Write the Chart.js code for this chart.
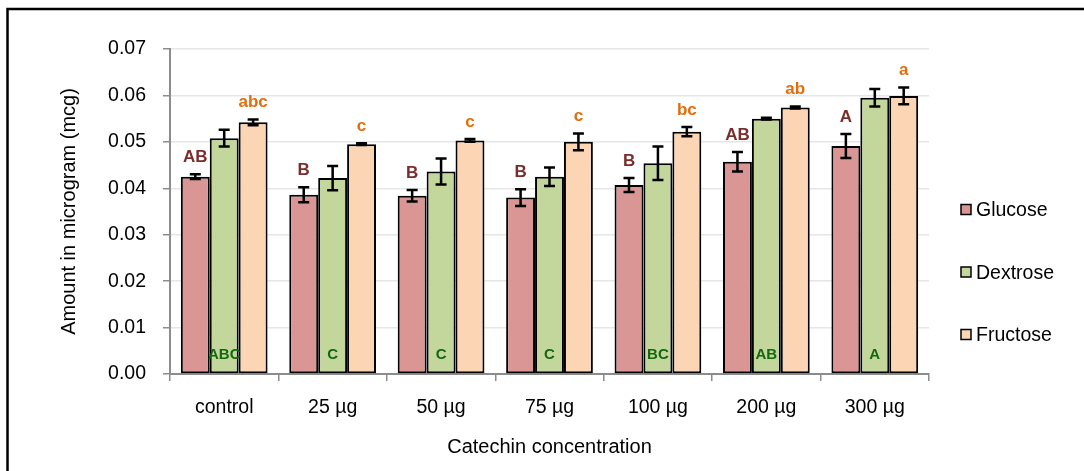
<!DOCTYPE html>
<html>
<head>
<meta charset="utf-8">
<script src="https://cdn.jsdelivr.net/npm/chart.js@4"></script>
<style>
html,body{margin:0;padding:0;background:#fff;}
#wrap{width:1084px;height:471px;position:relative;}
</style>
</head>
<body>
<div id="wrap"><canvas id="c" width="1084" height="471"></canvas></div>
<script>
const categories = ['control', '25 µg', '50 µg', '75 µg', '100 µg', '200 µg', '300 µg'];
const seriesNames = ['Glucose', 'Dextrose', 'Fructose'];
const glucose = [0.0425, 0.0386, 0.0384, 0.0380, 0.0407, 0.0457, 0.0491];
const glucoseErr = [0.0005, 0.0016, 0.00125, 0.0018, 0.0015, 0.0021, 0.0026];
const dextrose = [0.0508, 0.0422, 0.0436, 0.0425, 0.0454, 0.0550, 0.0595];
const dextroseErr = [0.0018, 0.0026, 0.0028, 0.0020, 0.0036, 0.0002, 0.0019];
const fructose = [0.0542, 0.0495, 0.0503, 0.0500, 0.0522, 0.0574, 0.0599];
const fructoseErr = [0.0006, 0.0002, 0.0003, 0.0018, 0.0010, 0.0002, 0.0018];
const glucoseLetters = ['AB', 'B', 'B', 'B', 'B', 'AB', 'A'];
const dextroseLetters = ['ABC', 'C', 'C', 'C', 'BC', 'AB', 'A'];
const fructoseLetters = ['abc', 'c', 'c', 'c', 'bc', 'ab', 'a'];
const yTicks = [0, 0.01, 0.02, 0.03, 0.04, 0.05, 0.06, 0.07];

const FONT = "'Liberation Sans', Arial, sans-serif";
const fills = ['#D99694', '#C3D69B', '#FCD5B5'];
const errs = [glucoseErr, dextroseErr, fructoseErr];

const frame = {
  id: 'frame',
  beforeDraw(chart) {
    const ctx = chart.ctx;
    ctx.save();
    ctx.fillStyle = '#fff';
    ctx.fillRect(0, 0, chart.width, chart.height);
    ctx.strokeStyle = '#000';
    ctx.lineWidth = 2.5;
    ctx.beginPath();
    ctx.moveTo(7.5, 471);
    ctx.lineTo(7.5, 9);
    ctx.lineTo(1084, 9);
    ctx.stroke();
    ctx.restore();
  }
};

const errorBars = {
  id: 'errorBars',
  afterDatasetsDraw(chart) {
    const ctx = chart.ctx;
    const ys = chart.scales.y;
    ctx.save();
    ctx.strokeStyle = '#000';
    ctx.lineWidth = 2.5;
    chart.data.datasets.forEach((ds, i) => {
      const meta = chart.getDatasetMeta(i);
      meta.data.forEach((bar, j) => {
        const v = ds.data[j], e = errs[i][j];
        const yt = ys.getPixelForValue(v + e);
        const yb = ys.getPixelForValue(v - e);
        const x = bar.x;
        ctx.beginPath();
        ctx.moveTo(x, yt); ctx.lineTo(x, yb);
        ctx.moveTo(x - 5.5, yt); ctx.lineTo(x + 5.5, yt);
        ctx.moveTo(x - 5.5, yb); ctx.lineTo(x + 5.5, yb);
        ctx.stroke();
      });
    });
    ctx.restore();
  }
};

const letters = {
  id: 'letters',
  afterDraw(chart) {
    const ctx = chart.ctx;
    const ys = chart.scales.y;
    ctx.save();
    ctx.textAlign = 'center';
    ctx.textBaseline = 'middle';
    const above = [[0, glucoseLetters, '#7A2E2C'], [2, fructoseLetters, '#E46C0A']];
    ctx.font = 'bold 17px ' + FONT;
    above.forEach(([i, labs, col]) => {
      const meta = chart.getDatasetMeta(i);
      const ds = chart.data.datasets[i];
      ctx.fillStyle = col;
      meta.data.forEach((bar, j) => {
        const yt = ys.getPixelForValue(ds.data[j] + errs[i][j]);
        ctx.fillText(labs[j], bar.x, yt - 17);
      });
    });
    ctx.font = 'bold 15px ' + FONT;
    ctx.fillStyle = '#13680F';
    chart.getDatasetMeta(1).data.forEach((bar, j) => {
      ctx.fillText(dextroseLetters[j], bar.x, ys.bottom - 19);
    });
    ctx.restore();
  }
};

const customLegend = {
  id: 'customLegend',
  afterDraw(chart) {
    const ctx = chart.ctx;
    ctx.save();
    ctx.font = '19.5px ' + FONT;
    ctx.textBaseline = 'middle';
    ctx.textAlign = 'left';
    seriesNames.forEach((name, i) => {
      const cy = 210 + i * 62.5;
      ctx.fillStyle = fills[i];
      ctx.fillRect(961, cy - 5.5, 10, 10);
      ctx.strokeStyle = '#000';
      ctx.lineWidth = 1.5;
      ctx.strokeRect(961, cy - 5.5, 10, 10);
      ctx.fillStyle = '#000';
      ctx.fillText(name, 976, cy + 1);
    });
    ctx.restore();
  }
};

new Chart(document.getElementById('c'), {
  type: 'bar',
  data: {
    labels: categories,
    datasets: [
      { label: seriesNames[0], data: glucose, backgroundColor: fills[0], borderColor: '#000', borderWidth: 2, borderSkipped: false },
      { label: seriesNames[1], data: dextrose, backgroundColor: fills[1], borderColor: '#000', borderWidth: 2, borderSkipped: false },
      { label: seriesNames[2], data: fructose, backgroundColor: fills[2], borderColor: '#000', borderWidth: 2, borderSkipped: false }
    ]
  },
  options: {
    responsive: false,
    animation: false,
    devicePixelRatio: 1,
    layout: { padding: { left: 0, right: 155, top: 49, bottom: 0 } },
    datasets: { bar: { categoryPercentage: 0.8, barPercentage: 1.0 } },
    plugins: { legend: { display: false }, tooltip: { enabled: false } },
    scales: {
      x: {
        afterFit(s) { s.height = 97; },
        grid: { drawOnChartArea: false, tickColor: '#8c8c8c', tickLength: 7, lineWidth: 1.5, offset: true },
        border: { color: '#8c8c8c', width: 2 },
        ticks: { color: '#000', font: { family: FONT, size: 19.5 }, padding: 15 },
        title: { display: true, text: 'Catechin concentration', color: '#000', font: { family: FONT, size: 20 }, padding: { top: 0, bottom: 12 } }
      },
      y: {
        min: 0, max: 0.07,
        afterFit(s) { s.width = 170; },
        afterBuildTicks(s) { s.ticks = yTicks.map(v => ({ value: v })); },
        grid: { color: '#e6e6e6', lineWidth: 1.5, tickColor: '#8c8c8c', tickLength: 7 },
        border: { color: '#8c8c8c', width: 2 },
        ticks: { color: '#000', font: { family: FONT, size: 19.5 }, padding: 17, callback: v => Number(v).toFixed(2) },
        title: { display: true, text: 'Amount in microgram (mcg)', color: '#000', font: { family: FONT, size: 20 }, padding: { top: 57, bottom: 0 } }
      }
    }
  },
  plugins: [frame, errorBars, letters, customLegend]
});
</script>
</body>
</html>
